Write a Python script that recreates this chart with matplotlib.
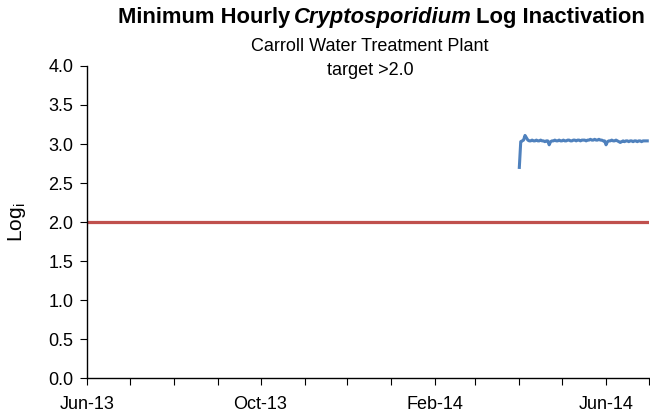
import matplotlib
matplotlib.use("Agg")
import matplotlib.pyplot as plt
import matplotlib.dates as mdates
import numpy as np
import pandas as pd

# daily minimum log inactivation, Apr 1 - Jun 30 2014
start_date = "2014-04-01"
log_apr = [2.70, 3.03, 3.04, 3.05, 3.11, 3.08, 3.05, 3.04, 3.04, 3.05,
           3.04, 3.04, 3.05, 3.04, 3.04, 3.05, 3.04, 3.04, 3.03, 3.04,
           3.04, 2.99, 3.03, 3.04, 3.04, 3.05, 3.04, 3.04, 3.05, 3.04]
log_may = [3.04, 3.05, 3.04, 3.04, 3.05, 3.05, 3.04, 3.04, 3.05, 3.05,
           3.04, 3.05, 3.05, 3.04, 3.05, 3.05, 3.05, 3.04, 3.05, 3.05,
           3.06, 3.05, 3.05, 3.06, 3.05, 3.05, 3.06, 3.05, 3.05, 3.04, 3.04]
log_jun = [2.99, 3.03, 3.04, 3.04, 3.05, 3.04, 3.04, 3.05, 3.04, 3.03,
           3.02, 3.03, 3.04, 3.03, 3.04, 3.04, 3.03, 3.04, 3.04, 3.03,
           3.04, 3.04, 3.03, 3.04, 3.04, 3.03, 3.04, 3.04, 3.04, 3.04]

target_dates = ["2013-06-01", "2014-07-01"]
target_vals = [2.0, 2.0]

yticks = [0.0, 0.5, 1.0, 1.5, 2.0, 2.5, 3.0, 3.5, 4.0]

log_vals = log_apr + log_may + log_jun
log_dates = pd.date_range(start_date, periods=len(log_vals), freq="D")

plt.rcParams["font.family"] = ["Liberation Sans", "DejaVu Sans"]

fig = plt.figure(figsize=(6.5, 4.15), dpi=100)
ax = fig.add_axes([0.134, 0.089, 0.864, 0.752])

ax.plot(pd.to_datetime(target_dates), target_vals, color="#C0504D", lw=2.3, solid_capstyle="butt")
ax.plot(log_dates, log_vals, color="#4F81BD", lw=2.2)

ax.set_xlim(pd.Timestamp("2013-06-01"), pd.Timestamp("2014-07-01"))
ax.set_ylim(0, 4)
ax.set_yticks(yticks)
ax.set_yticklabels(["%.1f" % v for v in yticks])

ax.xaxis.set_major_locator(mdates.MonthLocator(bymonth=[2, 6, 10]))
ax.xaxis.set_minor_locator(mdates.MonthLocator())
ax.xaxis.set_major_formatter(mdates.DateFormatter("%b-%y"))

for s in ["top", "right"]:
    ax.spines[s].set_visible(False)
for s in ["left", "bottom"]:
    ax.spines[s].set_linewidth(1.0)

ax.tick_params(axis="both", which="both", direction="out", length=5, width=0.8, labelsize=13)
ax.tick_params(axis="x", pad=8)
ax.tick_params(axis="y", pad=5)

ax.set_ylabel("Log$_{\\mathregular{i}}$", fontsize=15)
ax.yaxis.set_label_coords(-0.105, 0.5)

# title with italic genus name, pieces laid out side by side
renderer = fig.canvas.get_renderer()
parts = [("Minimum Hourly", "normal"), ("Cryptosporidium", "italic"), ("Log Inactivation", "normal")]
gap = 4
texts = []
widths = []
for txt, sty in parts:
    t = fig.text(0, 0.957, txt, fontsize=15.8, fontweight="bold", style=sty, ha="left", va="center")
    texts.append(t)
    widths.append(t.get_window_extent(renderer).width)
total = sum(widths) + gap * (len(parts) - 1)
xcen = 381
x = xcen - total / 2
for t, w in zip(texts, widths):
    t.set_x(x / 650)
    x += w + gap

fig.text(370 / 650, 0.889, "Carroll Water Treatment Plant", fontsize=13, ha="center", va="center")
fig.text(370 / 650, 0.829, "target >2.0", fontsize=13, ha="center", va="center")

fig.savefig("out.png", dpi=100)
